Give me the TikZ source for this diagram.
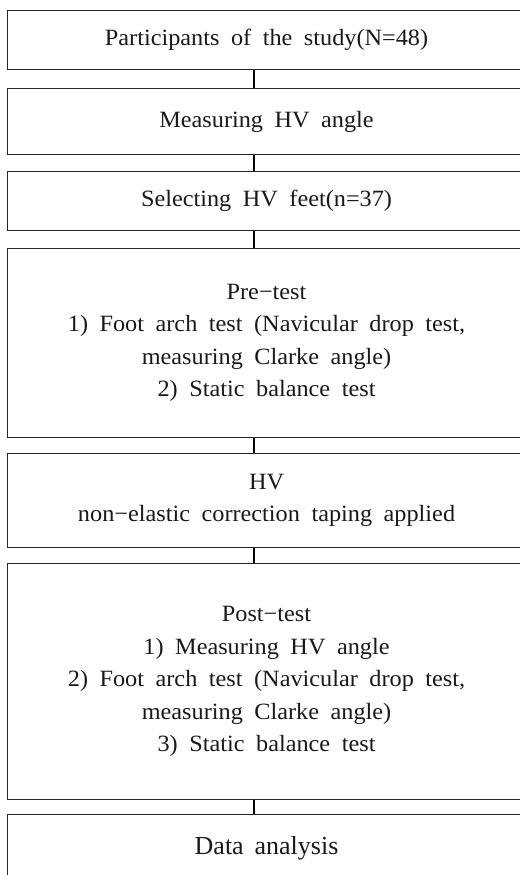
\documentclass[tikz,border=0pt]{standalone}
\usepackage{fontspec}
\setmainfont{Liberation Serif}[FakeStretch=1.04, WordSpace=1.9]
\newfontfamily\plainserif{Liberation Serif}
\begin{document}
\begin{tikzpicture}[x=0.75pt,y=-0.75pt,
  boxstyle/.style={draw=black!85, line width=0.8pt, rectangle, anchor=north west,
    minimum width=518*0.75pt, inner sep=0pt, align=center,
    font=\fontsize{17.5}{24.4}\selectfont, text=black!90},
  linkstyle/.style={draw=black, line width=0.8pt}]
\useasboundingbox (0,0) rectangle (520,875);
\clip (0,0) rectangle (520,875);
\fill[white] (0,0) rectangle (520,875);
\coordinate (cx) at (254,0);
\node[boxstyle, minimum height=59*0.75pt] (b1) at (7,10) {Participants of the study(N=48)};
\node[boxstyle, minimum height=66*0.75pt] (b2) at (7,88) {Measuring HV angle};
\node[boxstyle, minimum height=59*0.75pt] (b3) at (7,171) {Selecting HV feet(n=37)};
\node[boxstyle, minimum height=189*0.75pt] (b4) at (7,248) {Pre−test\\1) Foot arch test (Navicular drop test,\\measuring Clarke angle)\\2) Static balance test};
\node[boxstyle, minimum height=94*0.75pt] (b5) at (7,453) {HV\\non−elastic correction taping applied};
\node[boxstyle, minimum height=236*0.75pt] (b6) at (7,563) {Post−test\\1) Measuring HV angle\\2) Foot arch test (Navicular drop test,\\measuring Clarke angle)\\3) Static balance test};
\node[boxstyle, minimum height=68*0.75pt, font=\plainserif\fontsize{19.5}{22}\selectfont] (b7) at (7,814) {Data \,analysis};
\draw[linkstyle] (b1.south -| cx) -- (b2.north -| cx);
\draw[linkstyle] (b2.south -| cx) -- (b3.north -| cx);
\draw[linkstyle] (b3.south -| cx) -- (b4.north -| cx);
\draw[linkstyle] (b4.south -| cx) -- (b5.north -| cx);
\draw[linkstyle] (b5.south -| cx) -- (b6.north -| cx);
\draw[linkstyle] (b6.south -| cx) -- (b7.north -| cx);
\end{tikzpicture}
\end{document}
